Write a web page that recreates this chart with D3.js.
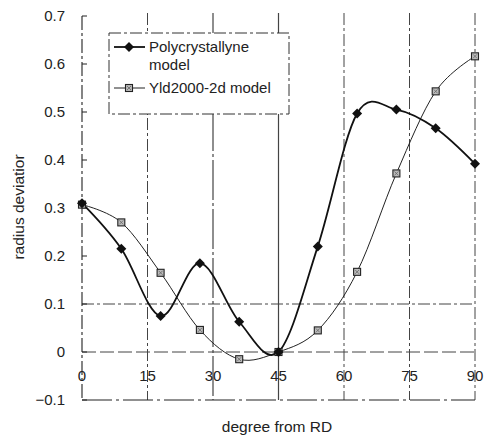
<!DOCTYPE html>
<html><head><meta charset="utf-8">
<script src="https://cdn.jsdelivr.net/npm/d3@7"></script>
<style>
html,body{margin:0;padding:0;background:#fff;}
svg{display:block;font-family:"Liberation Sans",Arial,sans-serif;}
</style></head>
<body>
<svg id="c" width="488" height="437"></svg>
<script>
const degrees = [0, 9, 18, 27, 36, 45, 54, 63, 72, 81, 90];
const polyValues = [0.31, 0.215, 0.075, 0.185, 0.063, 0.0, 0.22, 0.497, 0.505, 0.466, 0.392];
const yldValues = [0.307, 0.27, 0.165, 0.046, -0.015, 0.0, 0.045, 0.167, 0.372, 0.543, 0.616];
const xTicks = [0, 15, 30, 45, 60, 75, 90];
const yTicks = [-0.1, 0, 0.1, 0.2, 0.3, 0.4, 0.5, 0.6, 0.7];
const gridX = [15, 30, 45, 60, 75, 90];
const gridY = [0, 0.1];
const seriesNames = ["Polycrystallyne", "model", "Yld2000-2d model"];

const svg = d3.select("#c");
const x = d3.scaleLinear().domain([0, 90]).range([82, 475]);
const y = d3.scaleLinear().domain([-0.1, 0.7]).range([400, 16]);
const ink = "#222";

// vertical gridlines
svg.append("g").selectAll("line").data(gridX).join("line")
  .attr("x1", d => x(d)).attr("x2", d => x(d))
  .attr("y1", 13).attr("y2", y(-0.1))
  .attr("stroke", "#444").attr("stroke-width", d => d === 45 || d === 30 ? 1.2 : 1)
  .attr("stroke-dasharray", d => d === 45 ? null : (d === 30 ? "40,3,3,3" : "12,3,3,3"));

// horizontal gridlines
svg.append("g").selectAll("line").data(gridY).join("line")
  .attr("x1", x(0)).attr("x2", x(90))
  .attr("y1", d => y(d)).attr("y2", d => y(d))
  .attr("stroke", "#444").attr("stroke-width", 1)
  .attr("stroke-dasharray", d => d === 0 ? "14,4" : "12,3,3,3");

// bottom axis line (at -0.1)
svg.append("line").attr("x1", x(0)).attr("x2", x(90)).attr("y1", y(-0.1)).attr("y2", y(-0.1))
  .attr("stroke", ink).attr("stroke-width", 1.2).attr("stroke-dasharray", "30,4,3,4");

// left axis
svg.append("line").attr("x1", x(0)).attr("x2", x(0)).attr("y1", y(0.7)).attr("y2", y(-0.1))
  .attr("stroke", ink).attr("stroke-width", 1.1).attr("stroke-dasharray", "14,3,3,3");
svg.append("g").selectAll("line").data(yTicks).join("line")
  .attr("x1", x(0)).attr("x2", x(0) + 5)
  .attr("y1", d => y(d)).attr("y2", d => y(d))
  .attr("stroke", ink).attr("stroke-width", 1);

// y tick labels
svg.append("g").selectAll("text").data(yTicks).join("text")
  .attr("x", 65).attr("y", d => y(d)).attr("dy", "0.35em")
  .attr("text-anchor", "end").attr("font-size", 15).attr("fill", ink)
  .text(d => d3.format("~g")(+d.toFixed(1)));

// x tick labels (below zero line)
svg.append("g").selectAll("text").data(xTicks).join("text")
  .attr("x", d => x(d)).attr("y", 376).attr("dy", "0.35em")
  .attr("text-anchor", "middle").attr("font-size", 15).attr("fill", ink)
  .text(d => d);

// axis titles
svg.append("text").attr("x", 277).attr("y", 427).attr("dy", "0.35em")
  .attr("text-anchor", "middle").attr("font-size", 15.5).attr("fill", ink).text("degree from RD");
svg.append("text").attr("transform", "translate(19,207) rotate(-90)").attr("dy", "0.35em")
  .attr("text-anchor", "middle").attr("font-size", 15.5).attr("fill", ink).text("radius deviatior");

// series
const line = d3.line().x(d => x(d[0])).y(d => y(d[1])).curve(d3.curveCatmullRom.alpha(0));
const polyPts = degrees.map((d, i) => [d, polyValues[i]]);
const yldPts = degrees.map((d, i) => [d, yldValues[i]]);

svg.append("path").datum(yldPts).attr("d", line).attr("fill", "none")
  .attr("stroke", ink).attr("stroke-width", 1);
svg.append("path").datum(polyPts).attr("d", line).attr("fill", "none")
  .attr("stroke", "#111").attr("stroke-width", 1.8);

function square(g, cx, cy) {
  g.append("rect").attr("x", cx - 3.5).attr("y", cy - 3.5).attr("width", 7).attr("height", 7)
    .attr("fill", "#bbb").attr("stroke", "#222").attr("stroke-width", 1.1);
  g.append("path").attr("d", `M${cx-2},${cy-2}L${cx+2},${cy+2}M${cx+2},${cy-2}L${cx-2},${cy+2}`)
    .attr("stroke", "#666").attr("stroke-width", 0.8);
}
function diamond(g, cx, cy) {
  g.append("path").attr("d", `M${cx},${cy-5}L${cx+5},${cy}L${cx},${cy+5}L${cx-5},${cy}Z`)
    .attr("fill", "#111");
}
const gm = svg.append("g");
yldPts.forEach(p => square(gm, x(p[0]), y(p[1])));
polyPts.forEach(p => diamond(gm, x(p[0]), y(p[1])));

// legend
const lg = svg.append("g");
lg.append("rect").attr("x", 109).attr("y", 33).attr("width", 180).attr("height", 81)
  .attr("fill", "#fff").attr("stroke", "#333").attr("stroke-width", 1)
  .attr("stroke-dasharray", "12,3,3,3");
lg.append("line").attr("x1", 114).attr("x2", 145).attr("y1", 47).attr("y2", 47)
  .attr("stroke", "#111").attr("stroke-width", 1.8);
diamond(lg, 129, 47);
lg.append("line").attr("x1", 114).attr("x2", 145).attr("y1", 88).attr("y2", 88)
  .attr("stroke", ink).attr("stroke-width", 1);
square(lg, 129, 88);
lg.append("text").attr("x", 149).attr("y", 47).attr("dy", "0.35em").attr("font-size", 15).attr("fill", ink).text(seriesNames[0]);
lg.append("text").attr("x", 149).attr("y", 65).attr("dy", "0.35em").attr("font-size", 15).attr("fill", ink).text(seriesNames[1]);
lg.append("text").attr("x", 149).attr("y", 88).attr("dy", "0.35em").attr("font-size", 15).attr("fill", ink).text(seriesNames[2]);
</script>
</body></html>
